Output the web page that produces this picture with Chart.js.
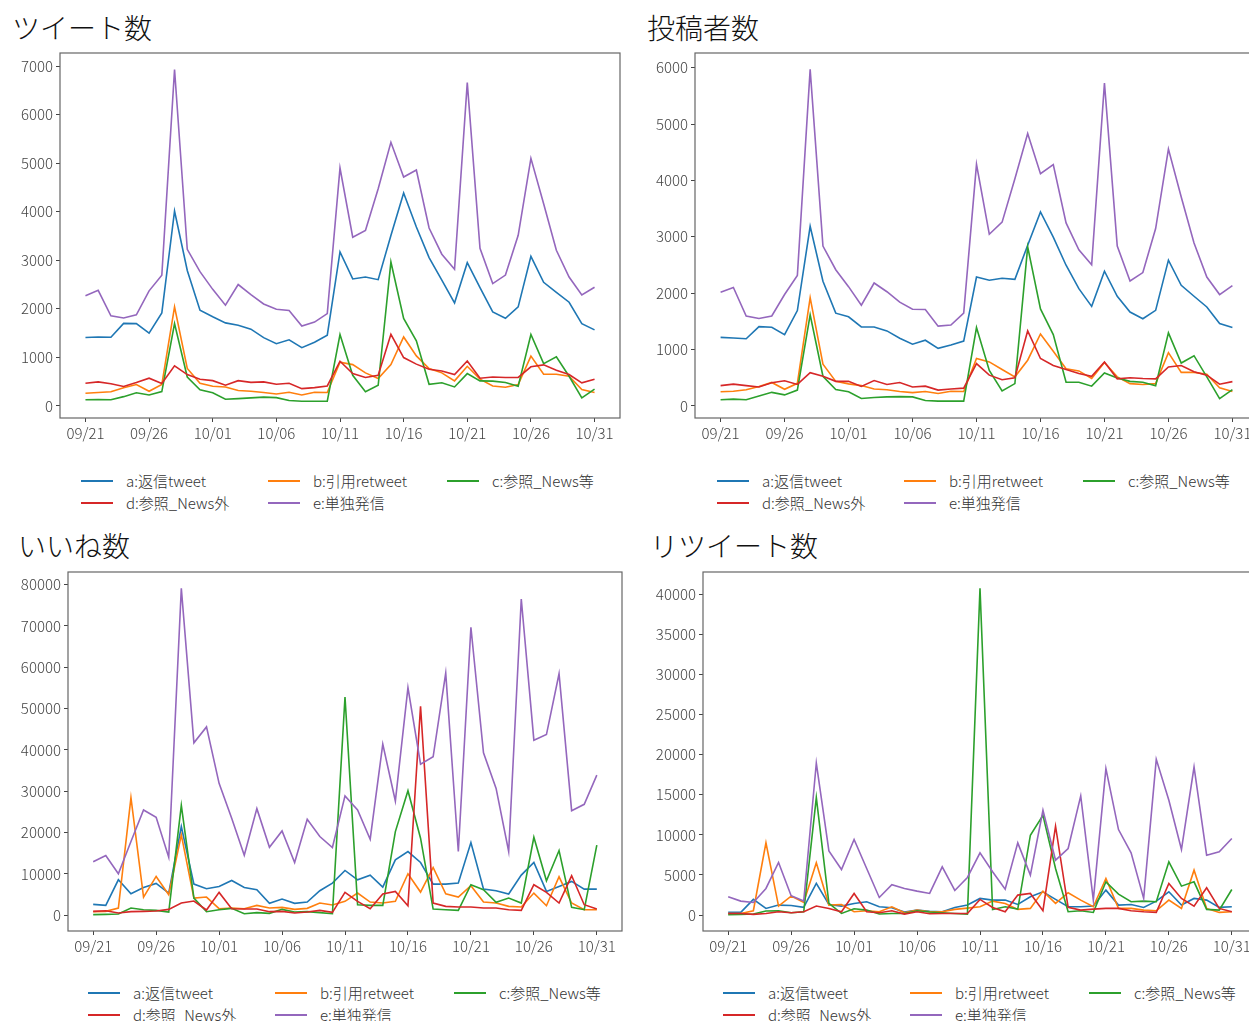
<!DOCTYPE html>
<html>
<head>
<meta charset="utf-8">
<script src="https://cdn.jsdelivr.net/npm/chart.js@4/dist/chart.umd.min.js"></script>
<style>
  html, body { margin: 0; padding: 0; background: #fff; overflow: hidden; }
  #fig { position: relative; width: 1249px; height: 1021px; overflow: hidden; background: #fff;
         font-family: "Noto Sans CJK JP", "Noto Sans", sans-serif; }
  .box { position: absolute; }
  .title { position: absolute; font-size: 28px; line-height: 34px; font-weight: 300; color: #111; white-space: nowrap; }
  .leg { position: absolute; font-size: 15px; line-height: 18px; font-weight: 300; color: #333; white-space: nowrap; }
  .sw { position: absolute; height: 2px; width: 32px; }
</style>
</head>
<body>
<div id="fig">
  <div class="title" style="left:12px;top:10px">ツイート数</div>
  <div class="title" style="left:647px;top:10px">投稿者数</div>
  <div class="title" style="left:18px;top:528px">いいね数</div>
  <div class="title" style="left:650px;top:528px">リツイート数</div>

  <div class="box" style="left:0;top:51px;width:622px;height:412px"><canvas id="c-tweet"></canvas></div>
  <div class="box" style="left:635px;top:51px;width:625px;height:412px"><canvas id="c-author"></canvas></div>
  <div class="box" style="left:0;top:570px;width:624px;height:406px"><canvas id="c-like"></canvas></div>
  <div class="box" style="left:635px;top:570px;width:624px;height:406px"><canvas id="c-rt"></canvas></div>
</div>

<script>
// ---- data ----
const dates = ['09/21','09/22','09/23','09/24','09/25','09/26','09/27','09/28','09/29','09/30',
  '10/01','10/02','10/03','10/04','10/05','10/06','10/07','10/08','10/09','10/10',
  '10/11','10/12','10/13','10/14','10/15','10/16','10/17','10/18','10/19','10/20',
  '10/21','10/22','10/23','10/24','10/25','10/26','10/27','10/28','10/29','10/30','10/31'];

const seriesLabels = ['a:返信tweet', 'b:引用retweet', 'c:参照_News等', 'd:参照_News外', 'e:単独発信'];
const seriesColors = ['#1f77b4', '#ff7f0e', '#2ca02c', '#d62728', '#9467bd'];

// ツイート数
const tweetA = [1410,1420,1415,1700,1695,1500,1915,4015,2790,1970,1835,1710,1660,1580,1405,1280,1360,1200,1310,1455,3170,2615,2655,2600,3510,4385,3685,3055,2590,2120,2950,2435,1935,1805,2040,3080,2545,2340,2135,1695,1565];
const tweetB = [260,275,290,375,440,300,440,2040,770,465,405,390,315,300,275,245,280,225,280,275,900,850,680,565,850,1420,1030,770,680,515,815,550,410,385,440,1025,650,650,610,335,275];
const tweetC = [125,130,125,190,270,225,295,1695,595,330,270,135,150,165,180,170,110,95,95,95,1470,630,290,425,2965,1800,1340,445,475,390,665,515,510,480,405,1470,870,1010,610,165,345];
const tweetD = [465,495,455,400,480,570,460,825,645,550,520,425,520,485,495,445,465,355,375,410,920,665,585,630,1475,995,860,755,720,645,925,570,595,585,585,805,845,735,645,475,550];
const tweetE = [2270,2380,1855,1810,1875,2370,2690,6930,3225,2765,2400,2075,2500,2290,2100,1990,1965,1645,1725,1900,4900,3475,3615,4475,5430,4715,4860,3665,3125,2815,6660,3245,2520,2695,3515,5100,4165,3205,2655,2285,2445];
const tweetTicks = [0,1000,2000,3000,4000,5000,6000,7000];

// 投稿者数
const authorA = [1215,1205,1190,1405,1395,1265,1690,3185,2210,1645,1580,1400,1400,1330,1200,1095,1165,1020,1080,1150,2285,2230,2265,2245,2850,3440,2995,2495,2080,1765,2390,1945,1665,1545,1695,2585,2140,1945,1755,1460,1390];
const authorB = [250,260,285,345,415,295,400,1920,740,435,390,360,300,285,255,235,255,220,260,255,840,780,645,515,810,1275,970,660,620,485,770,515,395,380,395,945,595,595,560,320,255];
const authorC = [110,120,110,175,240,195,280,1615,525,290,250,130,150,160,165,160,95,85,85,85,1390,630,265,395,2820,1720,1265,420,420,350,585,495,435,420,355,1295,760,890,515,130,290];
const authorD = [360,385,360,335,410,445,380,590,525,435,435,345,450,380,415,335,350,280,300,315,750,545,465,500,1330,840,715,645,575,525,780,480,500,485,480,690,715,605,545,385,430];
const authorE = [2015,2100,1595,1550,1595,1975,2315,5970,2835,2415,2115,1785,2180,2025,1840,1715,1710,1415,1435,1645,4285,3045,3260,4030,4830,4120,4280,3245,2770,2505,5725,2835,2215,2365,3145,4555,3705,2890,2285,1975,2135];
const authorTicks = [0,1000,2000,3000,4000,5000,6000];

// いいね数
const likeA = [2650,2410,8600,5225,6750,7715,5385,21460,7555,6430,6995,8440,6750,6190,2895,3940,2895,3215,5950,7800,10850,8600,9725,6835,13425,15435,12780,7555,7555,7800,17605,6350,5950,5145,9725,12780,5790,6995,8200,6350,6350];
const likeB = [885,965,1770,28455,4420,9405,4985,19455,4180,4420,1610,1770,1610,2410,1770,1930,1445,1690,2975,2490,3375,5385,3215,2975,3375,10050,5625,11575,5225,4420,7155,3215,2975,2170,2010,5385,2330,9325,2975,1365,1365];
const likeC = [160,240,320,1770,1365,1205,805,26610,4180,885,1365,1690,400,645,480,1445,805,885,645,400,52815,2570,2410,2410,20255,30145,18650,1525,1365,1205,7395,6190,3135,4180,2975,18890,8360,15675,1930,1365,16960];
const likeD = [965,1125,565,885,965,1045,1445,2975,3455,1285,5545,1610,1525,1525,885,965,565,805,1205,725,5545,3375,1610,5145,5790,2330,50565,2975,2170,2010,2010,1770,1770,1365,1205,7395,5545,2975,9565,2570,1525];
const likeE = [12940,14470,10050,17845,25480,23715,14070,79100,41720,45580,31915,23475,14550,25805,16480,20420,12780,23230,19050,16400,28900,25480,18410,41400,27655,55065,36575,38345,58600,15435,69695,39310,30705,15435,76525,42365,43730,58440,25320,26850,33925];
const likeTicks = [0,10000,20000,30000,40000,50000,60000,70000,80000];

// リツイート数
const rtA = [330,330,1950,830,1245,1200,955,3940,1325,1120,1450,1660,1035,910,375,620,455,415,955,1245,2075,1865,1865,1325,2280,2900,1950,1035,1035,1120,3110,1245,1325,955,1740,2900,1245,2075,1865,955,1035];
const rtB = [205,205,540,9000,1120,2365,1575,6510,1245,1325,415,540,415,1035,290,620,415,415,705,870,1035,1740,1450,705,830,2985,1450,2780,1865,1035,4560,830,830,620,540,1865,830,5595,830,330,415];
const rtC = [50,85,125,500,540,290,415,14635,1450,205,790,620,125,205,205,540,375,290,205,125,40715,705,1035,745,9950,12440,5805,415,540,330,4145,2610,1660,1740,1660,6635,3605,4145,705,620,3190];
const rtD = [205,205,85,205,415,290,415,1120,830,415,2695,415,290,540,125,415,165,205,205,205,1950,955,415,2490,2695,540,11070,955,620,745,830,830,540,415,330,3940,2075,1120,3400,830,415];
const rtE = [2280,1740,1575,3315,6550,2405,1740,18945,8000,5680,9410,5805,2195,3775,3315,2985,2695,6010,3070,4685,7755,5390,3235,9000,4975,13060,6840,8290,14845,1865,18240,10655,7755,2075,19405,14305,8170,18450,7465,7875,9535];
const rtTicks = [0,5000,10000,15000,20000,25000,30000,35000,40000];

const dateTicks = [0,5,10,15,20,25,30,35,40];

// ---- drawing ----
const TICK_FONT = { family: '"Noto Sans CJK JP", "Noto Sans", sans-serif', size: 15, weight: '300' };

// matplotlib-style box around the plot area
const framePlugin = {
  id: 'frame',
  afterDatasetsDraw(chart) {
    const { ctx, chartArea: a } = chart;
    ctx.save();
    ctx.strokeStyle = '#666';
    ctx.lineWidth = 1.2;
    ctx.strokeRect(a.left, a.top, a.right - a.left, a.bottom - a.top);
    ctx.restore();
  },
};

function makeChart(id, series, yMin, yMax, yTicks, yWidth) {
  const ctx = document.getElementById(id).getContext('2d');
  return new Chart(ctx, {
    type: 'line',
    data: {
      datasets: series.map((vals, k) => ({
        label: seriesLabels[k],
        data: vals.map((v, i) => ({ x: i, y: v })),
        borderColor: seriesColors[k],
        borderWidth: 1.6,
        pointRadius: 0,
        tension: 0,
        order: series.length - k,
      })),
    },
    options: {
      responsive: true,
      maintainAspectRatio: false,
      animation: false,
      layout: { padding: { top: 2, right: 2, left: 0, bottom: 0 } },
      plugins: { legend: { display: false }, tooltip: { enabled: false } },
      scales: {
        x: {
          type: 'linear', min: -2, max: 42, bounds: 'data',
          border: { display: false },
          grid: { drawOnChartArea: false, tickLength: 4, tickColor: '#444', tickWidth: 1 },
          ticks: { font: TICK_FONT, color: '#444', padding: 2, maxRotation: 0, autoSkip: false,
                   callback: (v) => dates[v] ?? '' },
          afterBuildTicks: (s) => { s.ticks = dateTicks.map((v) => ({ value: v })); },
          afterFit: (s) => { s.height = 45; s.paddingLeft = 0; s.paddingRight = 0; },
        },
        y: {
          type: 'linear', min: yMin, max: yMax, bounds: 'data',
          border: { display: false },
          grid: { drawOnChartArea: false, tickLength: 4, tickColor: '#444', tickWidth: 1 },
          ticks: { font: TICK_FONT, color: '#444', padding: 3, autoSkip: false,
                   callback: (v) => String(v) },
          afterBuildTicks: (s) => { s.ticks = yTicks.map((v) => ({ value: v })); },
          afterFit: (s) => { s.width = yWidth; s.paddingTop = 0; s.paddingBottom = 0; },
        },
      },
    },
    plugins: [framePlugin],
  });
}

makeChart('c-tweet',  [tweetA, tweetB, tweetC, tweetD, tweetE], -250, 7270, tweetTicks, 60);
makeChart('c-author', [authorA, authorB, authorC, authorD, authorE], -215, 6260, authorTicks, 60);
makeChart('c-like',   [likeA, likeB, likeC, likeD, likeE], -3790, 83050, likeTicks, 68);
makeChart('c-rt',     [rtA, rtB, rtC, rtD, rtE], -1985, 42750, rtTicks, 68);

// ---- legends (three columns, two rows, like the original) ----
const legendSpots = [
  { x: 81,  y: 481 },
  { x: 717, y: 481 },
  { x: 88,  y: 993 },
  { x: 723, y: 993 },
];
const colOffsets = [0, 187, 366];
const fig = document.getElementById('fig');
legendSpots.forEach((spot) => {
  seriesLabels.forEach((label, k) => {
    const col = k % 3, row = Math.floor(k / 3);
    const x = spot.x + colOffsets[col];
    const y = spot.y + row * 22;
    const sw = document.createElement('div');
    sw.className = 'sw';
    sw.style.left = x + 'px';
    sw.style.top = (y - 1) + 'px';
    sw.style.background = seriesColors[k];
    fig.appendChild(sw);
    const t = document.createElement('div');
    t.className = 'leg';
    t.style.left = (x + 45) + 'px';
    t.style.top = (y - 9) + 'px';
    t.textContent = label;
    fig.appendChild(t);
  });
});
</script>
</body>
</html>
